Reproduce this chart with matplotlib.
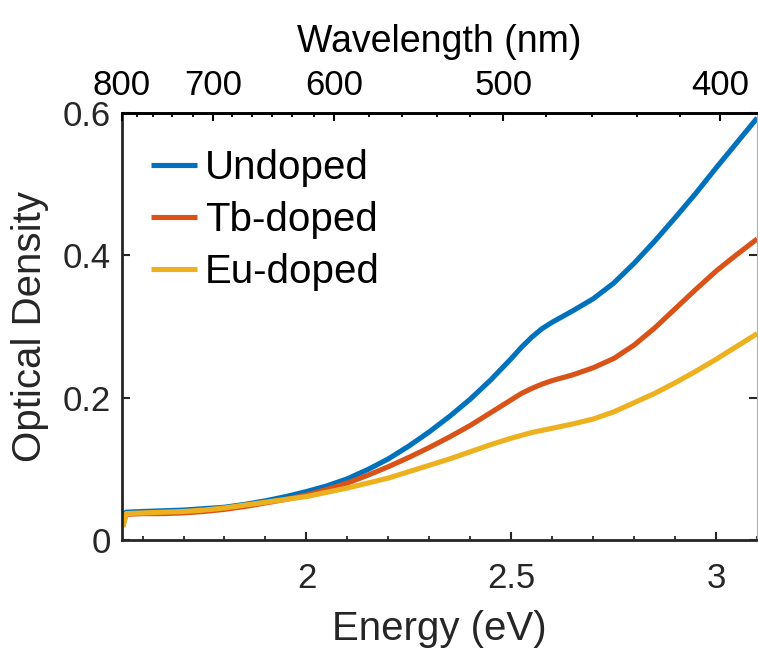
import numpy as np
import matplotlib
matplotlib.use("Agg")
import matplotlib.pyplot as plt

plt.rcParams['font.family'] = ['Liberation Sans', 'DejaVu Sans']

energy = [1.552, 1.56, 1.6, 1.65, 1.7, 1.75, 1.8, 1.85, 1.9, 1.95, 2.0, 2.05, 2.1, 2.15,
          2.2, 2.25, 2.3, 2.35, 2.4, 2.45, 2.5, 2.525, 2.55, 2.575, 2.6, 2.625, 2.65, 2.7,
          2.75, 2.8, 2.85, 2.9, 2.95, 3.0, 3.05, 3.1]
undoped = [0.033, 0.039, 0.040, 0.041, 0.042, 0.044, 0.046, 0.050, 0.055, 0.061, 0.068,
           0.076, 0.086, 0.099, 0.114, 0.132, 0.152, 0.174, 0.198, 0.225, 0.255, 0.271,
           0.285, 0.297, 0.306, 0.314, 0.322, 0.339, 0.361, 0.389, 0.420, 0.453, 0.487,
           0.523, 0.558, 0.593]
tb_doped = [0.020, 0.036, 0.037, 0.037, 0.038, 0.040, 0.043, 0.047, 0.052, 0.057, 0.063,
            0.071, 0.080, 0.091, 0.103, 0.116, 0.130, 0.145, 0.161, 0.179, 0.197, 0.206,
            0.213, 0.219, 0.224, 0.228, 0.232, 0.242, 0.255, 0.274, 0.298, 0.325, 0.352,
            0.378, 0.401, 0.423]
eu_doped = [0.018, 0.037, 0.038, 0.039, 0.040, 0.042, 0.045, 0.049, 0.053, 0.057, 0.061,
            0.067, 0.073, 0.080, 0.087, 0.096, 0.105, 0.114, 0.124, 0.134, 0.143, 0.147,
            0.151, 0.154, 0.157, 0.160, 0.163, 0.170, 0.180, 0.193, 0.206, 0.221, 0.237,
            0.254, 0.272, 0.290]

series_labels = ['Undoped', 'Tb-doped', 'Eu-doped']
colors = ['#0072BD', '#D95319', '#EDB120']

x_major = [2, 2.5, 3]
x_minor = [1.6, 1.7, 1.8, 1.9, 2.1, 2.2, 2.3, 2.4, 2.6, 2.7, 2.8, 2.9, 3.0, 3.1]
y_ticks = [0, 0.2, 0.4, 0.6]
y_ticklabels = ['0', '0.2', '0.4', '0.6']
top_major_wl = [800, 700, 600, 500, 412]
top_major_labels = ['800', '700', '600', '500', '400']
top_minor_wl = [781, 763, 742, 720, 682, 664, 647, 631, 614, 576, 555, 535, 517,
                480, 460, 442, 426]

dark = '#262626'
fig = plt.figure(figsize=(7.58, 6.49), dpi=100)
ax = fig.add_axes([0.161, 0.168, 0.838, 0.658])

for y, c, lab in zip([undoped, tb_doped, eu_doped], colors, series_labels):
    ax.plot(energy, y, color=c, lw=3.7, label=lab, solid_capstyle='butt')

ax.set_xlim(1.55, 3.1)
ax.set_ylim(0, 0.6)
ax.set_xticks(x_major)
ax.set_xticklabels(['2', '2.5', '3'])
ax.set_xticks(x_minor, minor=True)
ax.set_yticks(y_ticks)
ax.set_yticklabels(y_ticklabels)

ax.tick_params(axis='both', which='major', direction='in', length=6, width=1.5,
               colors=dark, labelsize=25, labelcolor=dark)
ax.tick_params(axis='x', which='major', pad=16)
ax.tick_params(axis='y', which='major', pad=8, right=True)
ax.tick_params(axis='x', which='minor', direction='in', length=3, width=1.3, colors=dark,
               top=False)
ax.tick_params(axis='x', which='both', top=False)

for s in ['left', 'bottom', 'top']:
    ax.spines[s].set_color(dark)
    ax.spines[s].set_linewidth(2.0)
ax.spines['right'].set_color('#b0b0b0')
ax.spines['right'].set_linewidth(0.8)

ax.set_xlabel('Energy (eV)', fontsize=29, color=dark, labelpad=11)
ax.set_ylabel('Optical Density', fontsize=29, color=dark, labelpad=10)

ax2 = ax.twiny()
ax2.set_xlim(ax.get_xlim())
ax2.set_xticks([1240.0 / w for w in top_major_wl])
ax2.set_xticklabels(top_major_labels)
ax2.set_xticks([1240.0 / w for w in top_minor_wl], minor=True)
ax2.tick_params(axis='x', which='major', direction='in', length=6, width=1.5,
                colors='black', labelsize=25, pad=8, labelcolor='black')
ax2.tick_params(axis='x', which='minor', direction='in', length=3, width=1.3, colors='black')
for s in ['left', 'bottom', 'right']:
    ax2.spines[s].set_visible(False)
ax2.spines['top'].set_color('black')
ax2.spines['top'].set_linewidth(2.0)
ax2.set_xlabel('Wavelength (nm)', fontsize=27, color='black', labelpad=12)

leg = ax.legend(loc='upper left', bbox_to_anchor=(0.045, 0.915), frameon=False,
                fontsize=29, handlelength=1.15, handletextpad=0.2, labelspacing=0.35,
                borderpad=0, borderaxespad=0)
for t in leg.get_texts():
    t.set_color('black')

fig.savefig('out.png', dpi=100)
